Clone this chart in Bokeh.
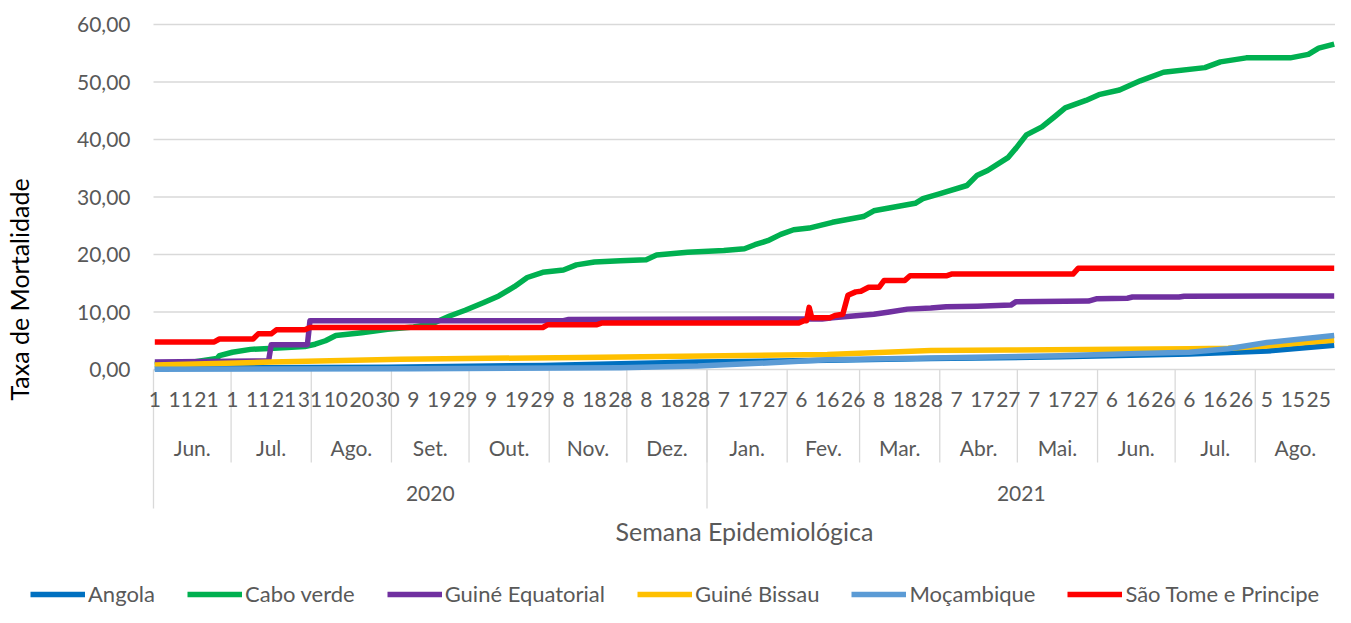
import math
import pandas as pd
from bokeh.plotting import figure
from bokeh.models import Range1d, Legend, LegendItem
from bokeh.core.properties import value
from bokeh.embed import file_html
from bokeh.resources import INLINE

# ---------------- data ----------------
start_date = "2020-06-01"
end_date = "2021-08-31"
month_names = ["Jan.", "Fev.", "Mar.", "Abr.", "Mai.", "Jun.",
               "Jul.", "Ago.", "Set.", "Out.", "Nov.", "Dez."]
y_ticks = [0, 10, 20, 30, 40, 50, 60]
y_title = "Taxa de Mortalidade"
x_title = "Semana Epidemiológica"

# x = days since 1 Jun 2020, y = mortality rate
angola_day = [0, 90, 150, 210, 260, 300, 350, 400, 430, 456]
angola_val = [0.2, 0.4, 0.7, 1.3, 1.6, 1.9, 2.2, 2.7, 3.2, 4.2]

cabo_day = [0, 15, 24, 25, 30, 37, 46, 58, 62, 66, 70, 80, 90, 100, 107, 114, 120, 127,
            133, 139, 144, 150, 158, 163, 170, 180, 190, 194, 206, 220, 228, 232, 237,
            242, 247, 253, 262, 274, 278, 294, 297, 303, 314, 318, 322, 330, 333, 337,
            343, 348, 352, 360, 365, 373, 381, 390, 406, 412, 422, 439, 446, 450, 456]
cabo_val = [0.9, 1.3, 1.9, 2.4, 3.0, 3.5, 3.7, 4.0, 4.4, 5.0, 5.9, 6.4, 7.0, 7.4, 7.9, 9.3,
            10.3, 11.6, 12.8, 14.4, 16.0, 16.9, 17.3, 18.2, 18.7, 18.9, 19.1, 19.9, 20.4,
            20.7, 21.0, 21.7, 22.4, 23.5, 24.3, 24.6, 25.6, 26.6, 27.6, 28.9, 29.7, 30.5,
            32.0, 33.8, 34.6, 36.9, 38.5, 40.8, 42.2, 44.0, 45.5, 46.8, 47.8, 48.6, 50.2,
            51.7, 52.5, 53.5, 54.2, 54.2, 54.8, 55.9, 56.6]

gueq_day = [0, 44, 45, 59, 60, 158, 160, 258, 262, 270, 278, 284, 291, 300, 306, 318,
            331, 333, 361, 364, 376, 378, 396, 398, 456]
gueq_val = [1.3, 1.5, 4.3, 4.3, 8.5, 8.5, 8.7, 8.8, 9.0, 9.3, 9.6, 10.0, 10.5, 10.7, 10.9,
            11.0, 11.2, 11.8, 11.9, 12.3, 12.4, 12.6, 12.6, 12.75, 12.8]

gbissau_day = [0, 45, 95, 165, 260, 300, 330, 400, 415, 430, 445, 456]
gbissau_val = [0.8, 1.3, 1.8, 2.1, 2.6, 3.3, 3.4, 3.6, 3.7, 4.1, 4.7, 5.1]

moz_day = [0, 100, 180, 210, 240, 260, 300, 350, 380, 400, 415, 430, 445, 456]
moz_val = [0.05, 0.15, 0.3, 0.6, 1.2, 1.7, 2.0, 2.4, 2.8, 3.0, 3.6, 4.7, 5.4, 5.9]

stp_day = [0, 23, 25, 38, 40, 45, 47, 58, 60, 150, 152, 171, 173, 249, 251, 252, 253, 254,
           261, 263, 266, 268, 271, 273, 276, 280, 282, 290, 292, 306, 308, 355, 357, 456]
stp_val = [4.8, 4.8, 5.3, 5.3, 6.2, 6.2, 6.9, 6.9, 7.3, 7.3, 7.8, 7.8, 8.1, 8.1, 8.5, 8.5,
           10.8, 9.0, 9.0, 9.4, 9.6, 12.9, 13.5, 13.6, 14.3, 14.3, 15.5, 15.5, 16.3, 16.3,
           16.6, 16.6, 17.6, 17.6]

series_names = ["Angola", "Cabo verde", "Guiné Equatorial", "Guiné Bissau",
                "Moçambique", "São Tome e Principe"]
series_colors = ["#0070C0", "#00B050", "#7030A0", "#FFC000", "#5B9BD5", "#FF0000"]
series_days = [angola_day, cabo_day, gueq_day, gbissau_day, moz_day, stp_day]
series_vals = [angola_val, cabo_val, gueq_val, gbissau_val, moz_val, stp_val]

# ---------------- category helpers ----------------
dates = pd.date_range(start_date, end_date, freq="D")
n = len(dates)
day_ticks = list(range(0, n, 10))
day_text = [str(dates[i].day) for i in day_ticks]

month_bounds = [i - 0.5 for i in range(n) if dates[i].day == 1]
month_centers, month_text = [], []
for (yy, mm), idx in pd.Series(range(n)).groupby([dates.year, dates.month]):
    month_centers.append((idx.iloc[0] + idx.iloc[-1]) / 2.0)
    month_text.append(month_names[mm - 1])
year_bounds = [i - 0.5 for i in range(n) if (i == 0 or (dates[i].month == 1 and dates[i].day == 1))]
year_centers, year_text = [], []
for yy, idx in pd.Series(range(n)).groupby(dates.year):
    year_centers.append((idx.iloc[0] + idx.iloc[-1]) / 2.0)
    year_text.append(str(yy))

# ---------------- layout (pixels) ----------------
W, H = 1335, 607
PL, PR = 153, 1335      # plot area left/right in canvas px
PT, PB = 24, 369        # plot area top (60) / bottom (0)
Y_MIN, Y_MAX = 0, 60
ppd = (PR - PL) / n
ppv = (PB - PT) / (Y_MAX - Y_MIN)
x_start = -0.5 - PL / ppd
x_end = n - 0.5 + (W - PR) / ppd
y_start = Y_MIN - (H - PB) / ppv
y_end = Y_MAX + PT / ppv


def px_x(px):
    return x_start + px / ppd


def px_y(py):
    return y_end - py / ppv


FONT = "Lato"
GRAY = "#595959"
GRID = "#D9D9D9"

p = figure(width=W, height=H, output_backend="svg", toolbar_location=None,
           x_range=Range1d(x_start, x_end), y_range=Range1d(y_start, y_end),
           x_axis_location=None, y_axis_location=None, min_border=0)
p.outline_line_color = None
p.grid.visible = False
p.background_fill_color = "white"
p.border_fill_color = "white"

# horizontal gridlines (the 0 line doubles as the category axis line)
p.segment(x0=[-0.5] * len(y_ticks), x1=[n - 0.5] * len(y_ticks), y0=y_ticks, y1=y_ticks,
          line_color=GRID, line_width=1.3)

# category dividers
m_div = [b for b in month_bounds if b > -0.5]
p.segment(x0=m_div, x1=m_div, y0=[0] * len(m_div), y1=[px_y(PB + 93)] * len(m_div),
          line_color=GRID, line_width=1.3)
y_div = list(year_bounds)
p.segment(x0=y_div, x1=y_div, y0=[0] * len(y_div), y1=[px_y(PB + 139)] * len(y_div),
          line_color=GRID, line_width=1.3)

# y tick labels
p.text(x=[px_x(PL - 23)] * len(y_ticks), y=y_ticks,
       text=[f"{v:.2f}".replace(".", ",") for v in y_ticks],
       text_align="right", text_baseline="middle", text_color=GRAY,
       text_font=value(FONT), text_font_size=value("21px"))

# category labels
p.text(x=day_ticks, y=[px_y(PB + 30)] * len(day_ticks), text=day_text,
       text_align="center", text_baseline="middle", text_color=GRAY,
       text_font=value(FONT), text_font_size=value("21px"))
p.text(x=month_centers, y=[px_y(PB + 78)] * len(month_centers), text=month_text,
       text_align="center", text_baseline="middle", text_color=GRAY,
       text_font=value(FONT), text_font_size=value("21px"))
p.text(x=year_centers, y=[px_y(PB + 124)] * len(year_centers), text=year_text,
       text_align="center", text_baseline="middle", text_color=GRAY,
       text_font=value(FONT), text_font_size=value("21px"))

# axis titles
p.text(x=[(n - 1) / 2.0], y=[px_y(PB + 161)], text=[x_title],
       text_align="center", text_baseline="middle", text_color=GRAY,
       text_font=value(FONT), text_font_size=value("25px"))
p.text(x=[px_x(18)], y=[px_y(289)], text=[y_title], angle=math.pi / 2,
       text_align="center", text_baseline="middle", text_color="#000000",
       text_font=value(FONT), text_font_size=value("25px"))

# series lines
items = []
for name, col, xs, ys in zip(series_names, series_colors, series_days, series_vals):
    r = p.line(x=xs, y=ys, line_color=col, line_width=5.5, line_join="round")
    items.append(LegendItem(label=name, renderers=[r]))

legend = Legend(items=items, orientation="horizontal", location=(30, 0),
                padding=0, margin=0, spacing=32, label_standoff=3,
                glyph_width=55, glyph_height=22,
                label_text_font=FONT, label_text_font_size="22px",
                label_text_color=GRAY, background_fill_alpha=0,
                border_line_color=None)
p.add_layout(legend)

open("out.html", "w").write(file_html(p, INLINE))
